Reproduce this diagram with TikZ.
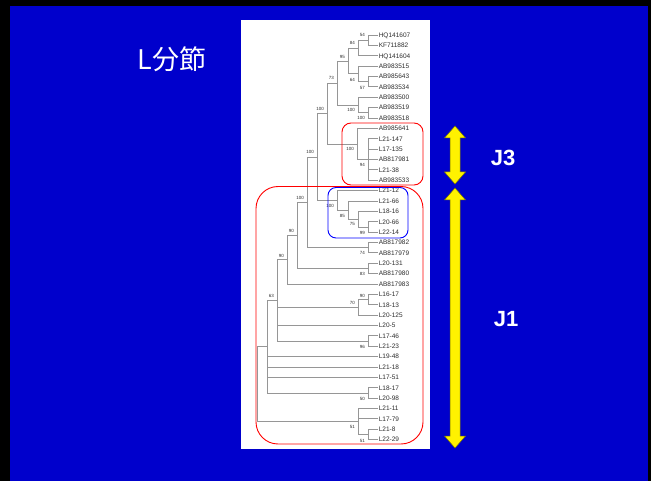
\documentclass[tikz,border=0pt]{standalone}
\usepackage{fontspec}
\setmainfont{Liberation Sans}
\newfontfamily\jpfont{Noto Sans CJK JP}
\definecolor{bgblue}{RGB}{0,0,204}
\definecolor{treegray}{RGB}{150,150,150}
\definecolor{txtgray}{RGB}{45,45,45}
\definecolor{arrowedge}{RGB}{120,120,0}
\definecolor{boxred}{RGB}{255,0,0}
\definecolor{boxblue}{RGB}{0,0,255}
\tikzset{
  leaf/.style={anchor=west, inner sep=0.6pt, text height=4.6pt, text depth=0pt,
    font=\fontsize{6.5}{7}\selectfont, text=txtgray},
  bs/.style={anchor=east, inner sep=0pt, font=\fontsize{4.5}{5}\selectfont, text=txtgray},
  br/.style={draw=treegray, line width=0.8pt},
  yarrow/.style={fill=yellow, draw=arrowedge, line width=0.5pt, line join=miter},
  bigtext/.style={text=white, font=\bfseries\fontsize{22}{24}\selectfont},
  groupbox/.style={line width=0.9pt}
}
\begin{document}
\begin{tikzpicture}[x=1pt,y=-1pt]
\useasboundingbox (0,0) rectangle (651,481);
\fill[black] (0,0) rectangle (651,481);
\fill[bgblue] (10,6) rectangle (648,481);
\fill[white] (241,20) rectangle (430,449);

% title
\node[text=white, font=\jpfont\fontsize{27}{30}\selectfont] (title) at (172,59) {L分節};

% leaves
\foreach \n [count=\i] in {HQ141607,KF711882,HQ141604,AB983515,AB985643,AB983534,AB983500,AB983519,AB983518,AB985641,L21-147,L17-135,AB817981,L21-38,AB983533,L21-12,L21-66,L18-16,L20-66,L22-14,AB817982,AB817979,L20-131,AB817980,AB817983,L16-17,L18-13,L20-125,L20-5,L17-46,L21-23,L19-48,L21-18,L17-51,L18-17,L20-98,L21-11,L17-79,L21-8,L22-29}
  \node[leaf] (l\i) at (378,{35+(\i-1)*10.375}) {\n};

% internal nodes
\coordinate (nA) at (368,40.2);
\coordinate (nB) at (358,48.0);
\coordinate (nD) at (368,81.7);
\coordinate (nC) at (358,73.9);
\coordinate (n95) at (348,61.0);
\coordinate (nF) at (368,112.8);
\coordinate (nE) at (358,105.1);
\coordinate (n73) at (337,83.0);
\coordinate (nJin) at (368,159.6);
\coordinate (nJ) at (357,144.0);
\coordinate (nH) at (327,113.5);
\coordinate (nR) at (368,227.0);
\coordinate (nQ) at (358,219.2);
\coordinate (nP) at (348,210.1);
\coordinate (nY) at (337,200.4);
\coordinate (nX) at (317,157.0);
\coordinate (nS) at (368,247.7);
\coordinate (nW) at (307,202.3);
\coordinate (nT) at (368,268.5);
\coordinate (nV) at (297,235.4);
\coordinate (nU) at (287,259.7);
\coordinate (nNa) at (368,299.6);
\coordinate (nSe) at (358,307.4);
\coordinate (nNs) at (368,341.1);
\coordinate (nO) at (277,300.4);
\coordinate (nFi) at (368,393.0);
\coordinate (nM) at (267,346.7);
\coordinate (nLb) at (368,434.5);
\coordinate (nLa) at (358,421.5);
\coordinate (nRoot) at (257,384.1);

% branches
\draw[br] (nA) |- (l1.west) (nA) |- (l2.west);
\draw[br] (nB) |- (nA) (nB) |- (l3.west);
\draw[br] (nD) |- (l5.west) (nD) |- (l6.west);
\draw[br] (nC) |- (l4.west) (nC) |- (nD);
\draw[br] (n95) |- (nB) (n95) |- (nC);
\draw[br] (nF) |- (l8.west) (nF) |- (l9.west);
\draw[br] (nE) |- (l7.west) (nE) |- (nF);
\draw[br] (n73) |- (n95) (n73) |- (nE);
\draw[br] (nJin) |- (l11.west) (nJin) |- (l12.west) (nJin) |- (l13.west) (nJin) |- (l14.west) (nJin) |- (l15.west);
\draw[br] (nJ) |- (l10.west) (nJ) |- (nJin);
\draw[br] (nH) |- (n73) (nH) |- (nJ);
\draw[br] (nR) |- (l19.west) (nR) |- (l20.west);
\draw[br] (nQ) |- (l18.west) (nQ) |- (nR);
\draw[br] (nP) |- (l17.west) (nP) |- (nQ);
\draw[br] (nY) |- (l16.west) (nY) |- (nP);
\draw[br] (nX) |- (nH) (nX) |- (nY);
\draw[br] (nS) |- (l21.west) (nS) |- (l22.west);
\draw[br] (nW) |- (nX) (nW) |- (nS);
\draw[br] (nT) |- (l23.west) (nT) |- (l24.west);
\draw[br] (nV) |- (nW) (nV) |- (nT);
\draw[br] (nU) |- (nV) (nU) |- (l25.west);
\draw[br] (nNa) |- (l26.west) (nNa) |- (l27.west);
\draw[br] (nSe) |- (nNa) (nSe) |- (l28.west);
\draw[br] (nNs) |- (l30.west) (nNs) |- (l31.west);
\draw[br] (nO) |- (nU) (nO) |- (nSe) (nO) |- (l29.west) (nO) |- (nNs);
\draw[br] (nFi) |- (l35.west) (nFi) |- (l36.west);
\draw[br] (nM) |- (nO) (nM) |- (l32.west) (nM) |- (l33.west) (nM) |- (l34.west) (nM) |- (nFi);
\draw[br] (nLb) |- (l39.west) (nLb) |- (l40.west);
\draw[br] (nLa) |- (l37.west) (nLa) |- (l38.west) (nLa) |- (nLb);
\draw[br] (nRoot) |- (nM) (nRoot) |- (nLa);

% bootstrap values
\node[bs] (bA) at (365,35) {54};
\node[bs] (bB) at (355,43) {84};
\node[bs] (b95) at (345,57) {95};
\node[bs] (b73) at (334,78) {73};
\node[bs] (bC) at (355,80) {64};
\node[bs] (bD) at (365,88) {57};
\node[bs] (bE) at (355,110) {100};
\node[bs] (bF) at (365,118) {100};
\node[bs] (bH) at (324,109) {100};
\node[bs] (bJ) at (354,149) {100};
\node[bs] (bJin) at (365,165) {94};
\node[bs] (bX) at (314,152) {100};
\node[bs] (bY) at (334,206) {100};
\node[bs] (bP) at (345,216) {85};
\node[bs] (bQ) at (355,224) {75};
\node[bs] (bR) at (365,233) {99};
\node[bs] (bW) at (304,198) {100};
\node[bs] (bS) at (365,253) {74};
\node[bs] (bV) at (294,231) {90};
\node[bs] (bT) at (365,274) {83};
\node[bs] (bU) at (284,256) {90};
\node[bs] (bO) at (274,296) {63};
\node[bs] (bNa) at (365,296) {90};
\node[bs] (bSe) at (355,303) {70};
\node[bs] (bNs) at (365,347) {96};
\node[bs] (bFi) at (365,399) {50};
\node[bs] (bLa) at (355,427) {51};
\node[bs] (bLb) at (365,441) {51};

% group boxes
\draw[groupbox, draw=boxred, rounded corners=9] (342,123) rectangle (423,185);
\draw[groupbox, draw=boxblue, rounded corners=8] (328,187.5) rectangle (408,238);
\draw[groupbox, draw=boxred, rounded corners=22] (256,186.5) rectangle (423,444);

% yellow double arrows
\draw[yarrow] (455,126) -- (465.5,138) -- (460,138) -- (460,172) -- (465.5,172) -- (455,184)
  -- (444.5,172) -- (450,172) -- (450,138) -- (444.5,138) -- cycle;
\draw[yarrow] (455,188) -- (465.5,200) -- (460,200) -- (460,436) -- (465.5,436) -- (455,448)
  -- (444.5,436) -- (450,436) -- (450,200) -- (444.5,200) -- cycle;

% group labels
\node[bigtext] (gJ3) at (503,158) {J3};
\node[bigtext] (gJ1) at (506,319) {J1};
\end{tikzpicture}
\end{document}
